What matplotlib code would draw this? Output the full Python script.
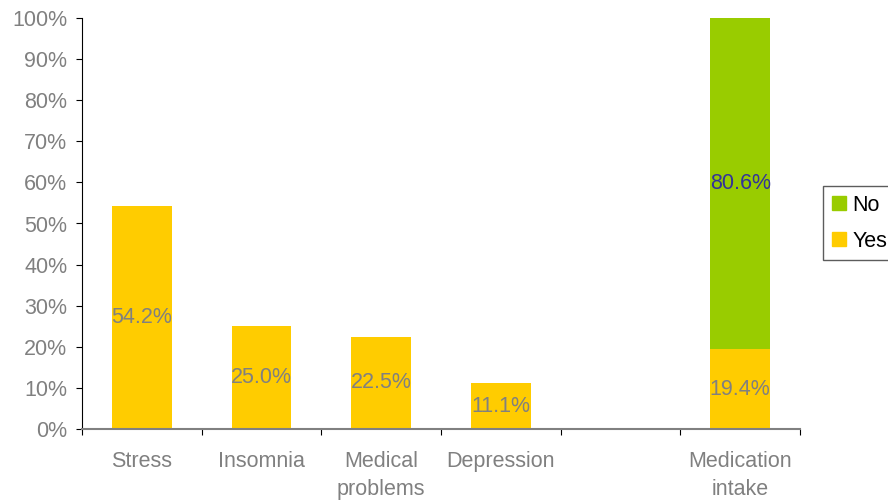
import numpy as np
import matplotlib.pyplot as plt
from matplotlib.patches import Patch

plt.rcParams['font.family'] = ['Liberation Sans', 'DejaVu Sans']

# data
categories = ['Stress', 'Insomnia', 'Medical\nproblems', 'Depression', '', 'Medication\nintake']
yes_vals = [54.2, 25.0, 22.5, 11.1, np.nan, 19.4]
no_vals = [np.nan, np.nan, np.nan, np.nan, np.nan, 80.6]

yellow = '#FFCC00'
green = '#99CC00'
grey = '#808080'
fs = 15.5

fig = plt.figure(figsize=(8.88, 5.04), dpi=100)
ax = fig.add_axes([82/888, 75/504, (800-82)/888, (429-18)/504])

x = np.arange(len(categories))
yes = np.array(yes_vals)
no = np.array(no_vals)

ax.bar(x, yes, width=0.5, color=yellow, zorder=2)
ax.bar(x, no, width=0.5, bottom=yes, color=green, zorder=2)

# labels in the middle of each segment
for xi, v in zip(x, yes):
    if not np.isnan(v):
        ax.text(xi, v/2, f'{v:.1f}%', ha='center', va='center', color=grey, fontsize=fs, zorder=3)
for xi, v, b in zip(x, no, yes):
    if not np.isnan(v):
        ax.text(xi, b + v/2, f'{v:.1f}%', ha='center', va='center', color='#333399', fontsize=fs, zorder=3)

ax.set_xlim(-0.5, len(categories) - 0.5)
ax.set_ylim(0, 100)
ax.set_yticks(np.arange(0, 101, 10))
ax.set_yticklabels([f'{t}%' for t in range(0, 101, 10)])

ax.set_xticks(np.arange(-0.5, len(categories), 1.0))
ax.set_xticklabels([])
ax.set_xticks(x, minor=True)
ax.set_xticklabels(categories, minor=True, linespacing=1.42)
ax.tick_params(axis='x', which='minor', length=0, pad=16, labelsize=fs, labelcolor=grey)
ax.tick_params(axis='x', which='major', length=4.5, direction='out', color='black')
ax.tick_params(axis='y', length=4.5, direction='out', pad=6, labelsize=fs, labelcolor=grey)

for s in ['top', 'right']:
    ax.spines[s].set_visible(False)
ax.spines['bottom'].set_color(grey)
ax.spines['bottom'].set_linewidth(1.5)
ax.spines['left'].set_color('black')

handles = [Patch(color=green, label='No'), Patch(color=yellow, label='Yes')]
leg = fig.legend(handles=handles, loc='upper left', bbox_to_anchor=(823/888, 1 - 186/504),
                 fancybox=False, frameon=True, fontsize=fs, handlelength=0.65, handleheight=0.65,
                 handletextpad=0.3, borderpad=0.4, labelspacing=0.7, borderaxespad=0)
leg.get_frame().set_edgecolor('#333333')
leg.get_frame().set_linewidth(1)

fig.savefig('out.png', dpi=100)
